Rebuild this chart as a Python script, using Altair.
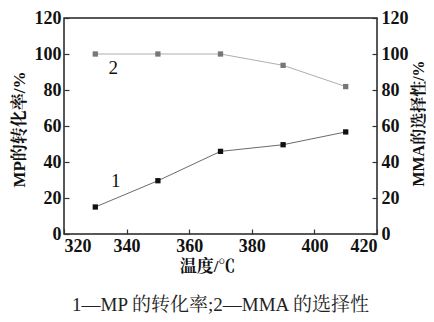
import altair as alt
import pandas as pd

temps = [330, 350, 370, 390, 410]
conversion = [15.0, 29.6, 45.9, 49.6, 56.7]
selectivity = [100, 100, 100, 93.7, 81.9]
label_text = ["1", "2"]
label_x = [336.5, 335.7]
label_y = [29.3, 92.2]
x_ticks = [320, 340, 360, 380, 400, 420]
y_ticks = [0, 20, 40, 60, 80, 100, 120]

FONT = "Liberation Serif, Noto Serif CJK SC, Noto Sans CJK SC"

df1 = pd.DataFrame({"t": temps, "v": conversion})
df2 = pd.DataFrame({"t": temps, "v": selectivity})
lab = pd.DataFrame({"t": label_x, "v": label_y, "s": label_text})

xscale = alt.Scale(domain=[320, 420], nice=False, zero=False)
yscale = alt.Scale(domain=[0, 120], nice=False)

xaxis = alt.Axis(title="温度/℃", values=x_ticks, offset=-5, tickSize=5, domain=False,
                 labelPadding=3, labelFlush=True, grid=False, titlePadding=3,
                 titleX=143, titleAlign="center")
laxis = alt.Axis(title="MP的转化率/%", values=y_ticks, offset=-5, tickSize=5, domain=False,
                 labelPadding=3, grid=False, titleX=-50, titleY=111,
                 titleAlign="center", titleBaseline="middle", titleAngle=270)
raxis = alt.Axis(title="MMA的选择性/%", orient="right", values=y_ticks, offset=-5, tickSize=5,
                 domain=False, labelPadding=4, grid=False, titleAngle=270, titleFontSize=16,
                 titleX=46, titleY=105, titleAlign="center", titleBaseline="middle")

X = alt.X("t:Q", scale=xscale, axis=xaxis)

base1 = alt.Chart(df1)
line1 = base1.mark_line(color="#444444", strokeWidth=0.8).encode(
    x=X, y=alt.Y("v:Q", scale=yscale, axis=laxis))
pts1 = base1.mark_square(color="#111111", size=28, opacity=1).encode(
    x=X, y=alt.Y("v:Q", scale=yscale, axis=laxis))
labels = alt.Chart(lab).mark_text(font=FONT, fontSize=19, color="#111111").encode(
    x=X, y=alt.Y("v:Q", scale=yscale, axis=laxis), text="s:N")

base2 = alt.Chart(df2)
line2 = base2.mark_line(color="#999999", strokeWidth=0.8).encode(
    x=X, y=alt.Y("v:Q", scale=yscale, axis=raxis))
pts2 = base2.mark_square(color="#777777", size=28, opacity=1).encode(
    x=X, y=alt.Y("v:Q", scale=yscale, axis=raxis))

left = alt.layer(line1, pts1, labels)
right = alt.layer(line2, pts2)

chart = alt.layer(left, right).resolve_scale(y="independent").properties(
    width=313, height=216,
    autosize=alt.AutoSizeParams(type="none"),
    padding={"left": 56, "top": 10, "right": 49, "bottom": 80},
    title=alt.TitleParams(text="1—MP 的转化率;2—MMA 的选择性", orient="bottom",
                          anchor="middle", offset=22, fontSize=19, fontWeight="normal",
                          font=FONT, color="#222222"),
).configure_view(stroke="#222222", strokeWidth=1.5).configure_axis(
    labelFont=FONT, labelFontSize=18, labelFontWeight="bold", labelColor="#111111",
    titleFont=FONT, titleFontSize=17, titleFontWeight="bold", titleColor="#111111",
    tickColor="#333333", tickWidth=1.2,
)

chart.save("out.html", embed_options={"renderer": "svg", "actions": False})
